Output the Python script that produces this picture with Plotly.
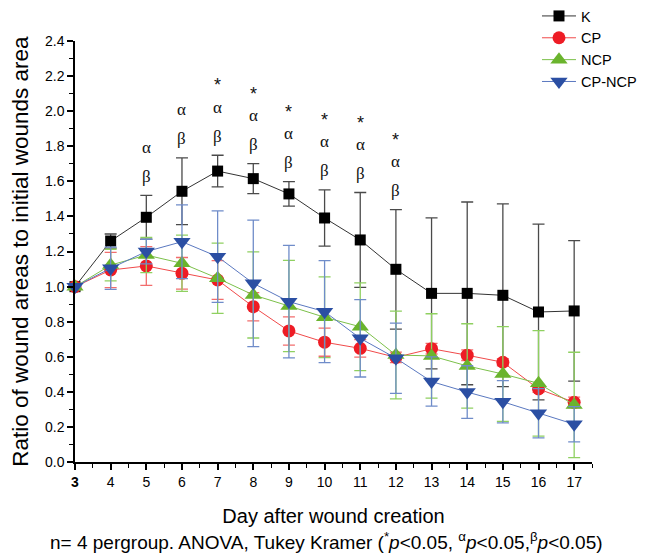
import plotly.graph_objects as go

days = [3, 4, 5, 6, 7, 8, 9, 10, 11, 12, 13, 14, 15, 16, 17]

k_mean = [1.00, 1.26, 1.395, 1.543, 1.658, 1.615, 1.528, 1.391, 1.266, 1.099, 0.962, 0.962, 0.951, 0.856, 0.862]
k_err = [0.0, 0.04, 0.125, 0.19, 0.09, 0.085, 0.07, 0.16, 0.27, 0.34, 0.43, 0.52, 0.52, 0.50, 0.40]

cp_mean = [1.00, 1.095, 1.118, 1.076, 1.038, 0.886, 0.748, 0.684, 0.649, 0.598, 0.647, 0.61, 0.57, 0.418, 0.342]
cp_err = [0.0, 0.10, 0.11, 0.09, 0.11, 0.08, 0.08, 0.08, 0.05, 0.03, 0.03, 0.03, 0.02, 0.02, 0.03]

ncp_mean = [1.00, 1.123, 1.18, 1.133, 1.048, 0.953, 0.89, 0.826, 0.772, 0.611, 0.606, 0.549, 0.503, 0.45, 0.327]
ncp_err = [0.0, 0.09, 0.10, 0.16, 0.20, 0.245, 0.26, 0.23, 0.25, 0.25, 0.24, 0.24, 0.27, 0.30, 0.30]

cpncp_mean = [1.00, 1.105, 1.20, 1.256, 1.171, 1.019, 0.915, 0.858, 0.706, 0.593, 0.46, 0.40, 0.345, 0.28, 0.217]
cpncp_err = [0.0, 0.12, 0.07, 0.21, 0.26, 0.36, 0.32, 0.29, 0.22, 0.20, 0.14, 0.15, 0.12, 0.14, 0.10]

# significance marks (vs K) per day
sig_days = [5, 6, 7, 8, 9, 10, 11, 12]
sig_star = [False, False, True, True, True, True, True, True]
sig_alpha = [True, True, True, True, True, True, True, True]
sig_beta = [True, True, True, True, True, True, True, True]

x_ticks = [3, 4, 5, 6, 7, 8, 9, 10, 11, 12, 13, 14, 15, 16, 17]
x_ticklabels = ["<b>3</b>"] + [str(d) for d in x_ticks[1:]]
y_ticks = [0.0, 0.2, 0.4, 0.6, 0.8, 1.0, 1.2, 1.4, 1.6, 1.8, 2.0, 2.2, 2.4]

series = [
    ("K", k_mean, k_err, "#000000", "#4a4a4a", "#333333", "square", 11),
    ("CP", cp_mean, cp_err, "#ee1c25", "#f26d6d", "#f04a4a", "circle", 13),
    ("NCP", ncp_mean, ncp_err, "#6ab42d", "#8fd060", "#7cc04a", "triangle-up", 15),
    ("CP-NCP", cpncp_mean, cpncp_err, "#2b4fa3", "#6f8cc9", "#5a78c0", "triangle-down", 15),
]

fig = go.Figure()
for name, mean, err, mcol, ecol, lcol, sym, size in series:
    fig.add_trace(go.Scatter(
        x=days, y=mean, name=name, mode="lines+markers",
        line=dict(color=lcol, width=1),
        marker=dict(symbol=sym, size=size, color=mcol),
        error_y=dict(type="data", array=err, visible=True, color=ecol, thickness=1.3, width=6),
        cliponaxis=False,
    ))

greek_font = dict(family="Liberation Serif", size=17, color="#111")
annotations = []
for i, d in enumerate(sig_days):
    idx = days.index(d)
    top = k_mean[idx] + k_err[idx]
    if sig_beta[i]:
        annotations.append(dict(x=d, y=top, text="β", showarrow=False, yshift=19,
                                yanchor="middle", font=greek_font))
    if sig_alpha[i]:
        annotations.append(dict(x=d, y=top, text="α", showarrow=False, yshift=48,
                                yanchor="middle", font=greek_font))
    if sig_star[i]:
        annotations.append(dict(x=d, y=top, text="*", showarrow=False, yshift=58,
                                yanchor="bottom", font=dict(family="Liberation Sans", size=18, color="#111")))

annotations.append(dict(
    x=0.5, y=0.027, xref="paper", yref="paper", xanchor="center", yanchor="middle",
    text="n= 4 pergroup. ANOVA, Tukey Kramer (<sup>*</sup><i>p</i>&lt;0.05, <sup>α</sup><i>p</i>&lt;0.05,<sup>β</sup><i>p</i>&lt;0.05)",
    showarrow=False, font=dict(family="Liberation Sans", size=19, color="#000")))

fig.update_layout(
    width=652, height=556,
    margin=dict(l=0, r=0, t=0, b=0),
    paper_bgcolor="white", plot_bgcolor="white",
    font=dict(family="Liberation Sans", color="#000"),
    showlegend=True,
    legend=dict(x=0.8236, y=1.0, xanchor="left", yanchor="top", bgcolor="rgba(0,0,0,0)",
                font=dict(size=14.5), tracegroupgap=0, itemwidth=34),
    annotations=annotations,
    xaxis=dict(
        domain=[75 / 652, 592 / 652], automargin=False,
        range=[3, 17.5], tickvals=x_ticks, ticktext=x_ticklabels,
        showgrid=False, zeroline=False, showline=True, linecolor="#000", linewidth=1.5,
        ticks="outside", ticklen=6, tickwidth=1.5, tickcolor="#000",
        minor=dict(dtick=0.5, tick0=3, ticks="outside", ticklen=4, tickwidth=1.2, tickcolor="#000"),
        tickfont=dict(size=14),
        title=dict(text="Day after wound creation", font=dict(size=20), standoff=20),
    ),
    yaxis=dict(
        domain=[(556 - 462.4) / 556, (556 - 40.7) / 556], automargin=False,
        range=[0, 2.4], tickvals=y_ticks, tickformat=".1f",
        showgrid=False, zeroline=False, showline=True, linecolor="#000", linewidth=1.5,
        ticks="outside", ticklen=6, tickwidth=1.5, tickcolor="#000",
        minor=dict(dtick=0.1, tick0=0, ticks="outside", ticklen=4, tickwidth=1.2, tickcolor="#000"),
        tickfont=dict(size=14),
        title=dict(text="Ratio of wound areas to initial wounds area", font=dict(size=22.5), standoff=10),
    ),
)

fig.write_html("out.html", config={"displayModeBar": False},
               post_script="document.body.style.margin='0px';")
